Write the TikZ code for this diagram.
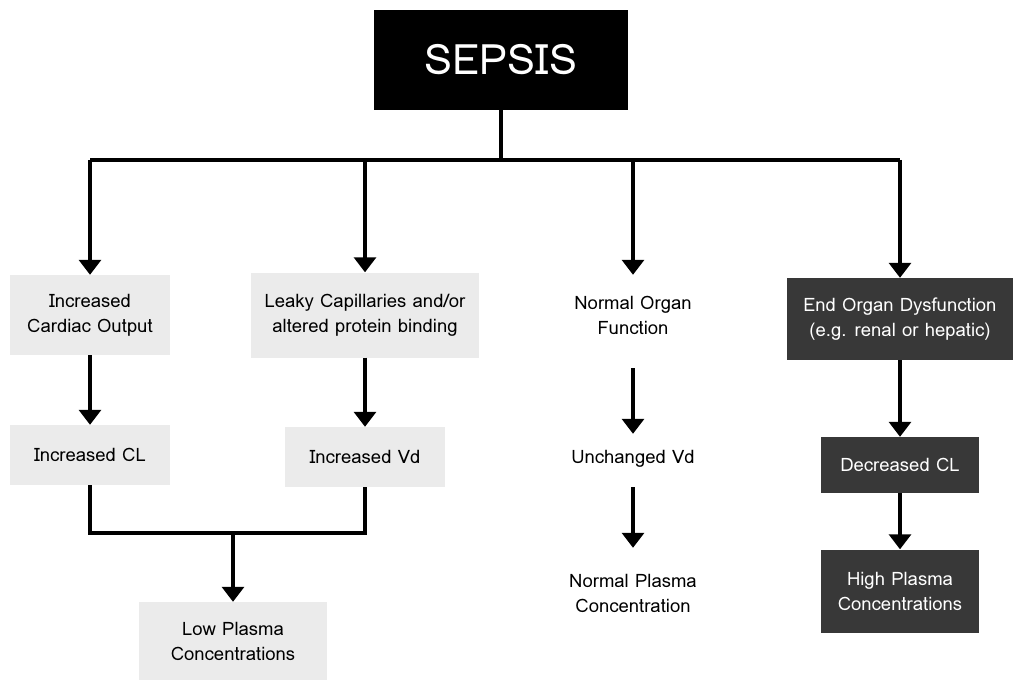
\documentclass[tikz,border=0pt]{standalone}
\usepackage{fontspec}
\setmainfont{Loma}
\usetikzlibrary{arrows.meta,positioning}
\begin{document}
\begin{tikzpicture}[x=1pt,y=-1pt,
  base/.style={align=center,inner sep=0pt,font=\fontsize{18.5}{25}\selectfont},
  light/.style={base,fill=gray!16},
  dark/.style={base,fill=black!78,text=white},
  plain/.style={base},
  line/.style={line width=3.2pt},
  arr/.style={line,-{Triangle[width=22pt,length=15pt]}}]
\useasboundingbox (0,0) rectangle (1019,687);
\node[base,fill=black,text=white,minimum width=254pt,minimum height=100pt,font=\fontsize{42}{50}\selectfont] (sep) at (501,60) {SEPSIS};
\coordinate (bus) at (501,160);
\node[light,minimum width=160pt,minimum height=80pt] (co) at (90,315) {Increased\\Cardiac Output};
\node[light,minimum width=228pt,minimum height=85pt] (lc) at (365,315) {Leaky Capillaries and/or\\altered protein binding};
\node[plain,minimum width=160pt,minimum height=80pt] (no) at (633,315) {Normal Organ\\Function};
\node[dark,minimum width=226pt,minimum height=82pt] (eo) at (900,319) {End Organ Dysfunction\\(e.g. renal or hepatic)};
\node[light,minimum width=160pt,minimum height=60pt] (cl) at (90,455) {Increased CL};
\node[light,minimum width=160pt,minimum height=60pt] (vd) at (365,457) {Increased Vd};
\node[plain,minimum width=160pt,minimum height=50pt] (uv) at (633,459) {Unchanged Vd};
\node[dark,minimum width=158pt,minimum height=56pt] (dc) at (900,465) {Decreased CL};
\coordinate (join) at (233,533);
\node[light,minimum width=188pt,minimum height=78pt] (lp) at (233,641) {Low Plasma\\Concentrations};
\node[plain,minimum width=160pt,minimum height=90pt] (np) at (633,593) {Normal Plasma\\Concentration};
\node[dark,minimum width=158pt,minimum height=83pt] (hp) at (900,591) {High Plasma\\Concentrations};
% top bus
\draw[line] (sep.south) -- (bus);
\draw[line] (bus -| co) -- (bus -| eo);
\draw[arr] (bus -| co) -- (co);
\draw[arr] (bus -| lc) -- (lc);
\draw[arr] (bus -| no) -- (no);
\draw[arr] (bus -| eo) -- (eo);
% left branches
\draw[arr] (co) -- (cl);
\draw[arr] (lc) -- (vd);
\draw[line] (cl.south) |- (join) -| (vd.south);
\draw[arr] (join) -- (lp);
% middle
\draw[arr,shorten <=13pt] (no) -- (uv);
\draw[arr,shorten <=3pt] (uv) -- (np);
% right
\draw[arr] (eo) -- (dc);
\draw[arr] (dc) -- (hp);
\end{tikzpicture}
\end{document}
